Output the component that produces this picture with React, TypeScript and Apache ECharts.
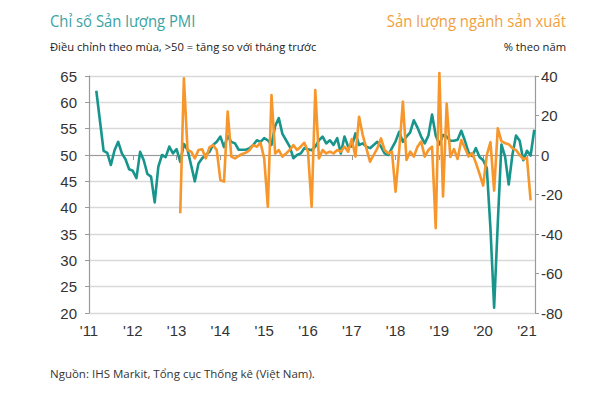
import React, { useEffect, useRef } from "react";
import * as echarts from "echarts";

// Month index 0 = Jan 2011
const yearLabels = ["'11", "'12", "'13", "'14", "'15", "'16", "'17", "'18", "'19", "'20", "'21"];

// PMI output index, Mar 2011 .. Mar 2021
const pmiStartMonth = 2;
const pmiOutput = [
  62.2, 56.5, 50.8, 50.4, 48.1, 50.9, 52.5, 50.3, 49.2, 47.3,
  47.0, 45.6, 50.6, 49.0, 46.4, 45.9, 41.0, 47.8, 50.0, 49.6, 51.6, 50.3,
  51.1, 48.7, 52.1, 51.0, 48.0, 45.0, 48.4, 49.4, 50.0, 50.6, 51.9, 52.5,
  53.5, 51.5, 53.6, 52.5, 52.2, 51.0, 51.0, 51.0, 51.3, 51.9, 52.8, 52.5,
  53.2, 52.8, 51.9, 55.5, 57.0, 54.0, 52.8, 51.6, 49.4, 50.0, 50.3, 51.3,
  51.1, 50.9, 51.6, 52.8, 53.5, 52.2, 52.8, 51.9, 53.2, 50.3, 53.5, 51.6,
  51.6, 54.1, 51.9, 52.2, 51.6, 51.3, 51.9, 52.5, 51.6, 50.3, 50.0, 51.3,
  52.6, 54.4, 52.5, 53.5, 54.3, 56.6, 55.2, 53.5, 52.2, 53.7, 57.7, 53.7,
  52.0, 53.8, 53.5, 52.7, 52.7, 52.9, 54.6, 52.7, 50.5, 49.8, 51.3, 49.6,
  49.0, 47.5, 36.0, 21.0, 37.0, 52.0, 49.7, 44.4, 50.0, 53.7, 52.7, 49.0,
  50.8, 49.9, 54.8,
];

// Industrial production, % y/y, Feb 2013 .. Feb 2021
const ipStartMonth = 25;
const ipYoY = [
  -29.5, 38.8, 2.5, 1.7, -1.7, 2.5, 2.9, -1.7, 3.9, 5.0, 2.5,
  -12.7, -13.5, 22.0, -0.8, -1.7, -0.5, 0.5, 1.2, 2.5, 5.0, 4.2, 6.2,
  -1.7, -26.2, 30.4, 0.8, 2.5, -0.8, 0.8, 2.5, 5.0, 2.5, 4.2, 6.2,
  1.7, -26.2, 32.9, -1.7, 2.5, 0.8, 1.7, 0.8, 2.5, 1.7, 4.2, 1.7,
  8.0, -0.8, 19.4, 10.1, 3.4, -3.4, 0.0, 3.4, 8.4, 2.5, 0.8, 1.7,
  -18.6, 2.5, 27.0, -2.5, 1.7, -0.8, 4.2, 6.8, -0.8, 2.5, 4.2, -37.0,
  41.5, -21.0, 26.0, -1.0, 3.0, -2.0, 7.6, 3.5, -0.8, 1.0, -4.0, -9.5,
  -15.5, 0.0, 6.5, -18.0, 13.5, 7.0, 6.0, 5.5, 3.5, 2.5, 0.0, -2.0,
  -1.5, -23.0,
];

const TEAL = "#17958c";
const ORANGE = "#f6962b";
const FONT = "'Liberation Sans Narrow', 'Liberation Sans', Arial, sans-serif";
const TFONT = "'Open Sans', 'Noto Sans', sans-serif";

export default function App() {
  const ref = useRef<HTMLDivElement>(null);
  useEffect(() => {
    if (!ref.current) return;
    const chart = echarts.init(ref.current, undefined, { renderer: "svg" });
    const pmiData = pmiOutput.map((v, i) => [pmiStartMonth + i, v]);
    const ipData = ipYoY.map((v, i) => [ipStartMonth + i, v]);
    const tickVals = yearLabels.map((_, i) => i * 12);
    chart.setOption({
      animation: false,
      backgroundColor: "#ffffff",
      grid: { left: 89, right: 65, top: 76, bottom: 87, containLabel: false },
      xAxis: {
        type: "value",
        min: 0,
        max: 122.2,
        interval: 12,
        axisLine: { show: true, lineStyle: { color: "#9a9a9a", width: 1.2 } },
        axisTick: { show: true, length: 5, lineStyle: { color: "#9a9a9a" }, customValues: tickVals },
        splitLine: { show: false },
        axisLabel: {
          customValues: tickVals,
          formatter: (v: number) => yearLabels[Math.round(v / 12)] ?? "",
          color: "#333",
          fontSize: 15,
          fontFamily: FONT,
          margin: 10,
        },
      },
      yAxis: [
        {
          type: "value",
          min: 20,
          max: 65,
          interval: 5,
          position: "left",
          axisLine: { show: true, lineStyle: { color: "#9a9a9a", width: 1.2 } },
          axisTick: { show: true, length: 4, lineStyle: { color: "#9a9a9a" } },
          splitLine: { show: true, lineStyle: { color: "#d9d9d9", width: 1.3 } },
          axisLabel: { color: "#333", fontSize: 15, fontFamily: FONT, margin: 12 },
        },
        {
          type: "value",
          min: -80,
          max: 40,
          interval: 20,
          position: "right",
          axisLine: { show: true, lineStyle: { color: "#9a9a9a", width: 1.2 } },
          axisTick: { show: true, length: 4, lineStyle: { color: "#9a9a9a" } },
          splitLine: { show: false },
          axisLabel: { color: "#333", fontSize: 15, fontFamily: FONT, margin: 6 },
        },
      ],
      series: [
        {
          type: "line",
          name: "PMI",
          yAxisIndex: 0,
          data: pmiData,
          showSymbol: false,
          clip: false,
          lineStyle: { color: TEAL, width: 2.6, join: "round" },
          z: 3,
        },
        {
          type: "line",
          name: "IP",
          yAxisIndex: 1,
          data: ipData,
          showSymbol: false,
          clip: false,
          lineStyle: { color: ORANGE, width: 2.6, join: "round" },
          z: 4,
        },
      ],
      graphic: [
        {
          type: "text",
          x: 50,
          y: 21,
          scaleX: 0.9,
          style: { text: "Chỉ số Sản lượng PMI", fill: "#3aa3a3", fontSize: 16.5, fontFamily: TFONT, verticalAlign: "middle" },
        },
        {
          type: "text",
          x: 50,
          y: 46,
          style: { text: "Điều chỉnh theo mùa, >50 = tăng so với tháng trước", fill: "#222", fontSize: 11.2, fontFamily: TFONT, verticalAlign: "middle" },
        },
        {
          type: "text",
          x: 566,
          y: 21,
          scaleX: 0.9,
          style: { text: "Sản lượng ngành sản xuất", fill: "#f0a040", fontSize: 16.5, fontFamily: TFONT, align: "right", verticalAlign: "middle" },
        },
        {
          type: "text",
          x: 566,
          y: 46,
          style: { text: "% theo năm", fill: "#222", fontSize: 11.2, fontFamily: TFONT, align: "right", verticalAlign: "middle" },
        },
        {
          type: "text",
          x: 50,
          y: 373,
          style: { text: "Nguồn: IHS Markit, Tổng cục Thống kê (Việt Nam).", fill: "#333", fontSize: 11.5, fontFamily: TFONT, verticalAlign: "middle" },
        },
      ],
    });
    return () => chart.dispose();
  }, []);
  return (
    <div
      ref={ref}
      style={{ position: "fixed", left: 0, top: 0, width: 600, height: 400, background: "#fff" }}
    />
  );
}
